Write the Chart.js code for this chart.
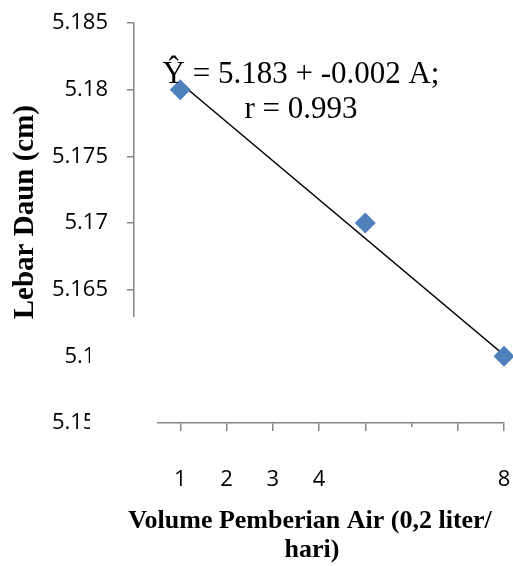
<!DOCTYPE html>
<html>
<head>
<meta charset="utf-8">
<script src="https://cdn.jsdelivr.net/npm/chart.js@4"></script>
<style>
  body { margin: 0; background: #fff; }
  #grafico { display: block; }
</style>
</head>
<body>
<canvas id="grafico" width="513" height="566"></canvas>
<script>
// data
const volume = [1, 5, 8];
const lebarDaun = [5.18, 5.17, 5.16];
const trendX = [1, 8];
const trendY = [5.1805, 5.1601];
const persamaan = ['Ŷ = 5.183 + -0.002 A;', 'r = 0.993'];

const judulY = '   Lebar Daun (cm)';
const judulX = ['Volume Pemberian Air (0,2 liter/', 'hari)'];

const warnaSumbu = '#868686';
const serif = '"Liberation Serif", "Times New Roman", serif';

// the original has parts of the axes covered, kept here as white patches
const tutup = {
    id: 'tutup',
    afterDraw(chart) {
        const c = chart.ctx;
        c.save();
        c.fillStyle = '#fff';
        c.fillRect(90, 317, 67, 128);   // lower y labels + axis stub
        c.fillRect(357, 436, 112, 60);  // x labels 5..7
        c.fillRect(405, 427, 13, 9);    // tick 6
        c.restore();
    }
};

// equation and x-axis title as text
const teks = {
    id: 'teks',
    afterDraw(chart) {
        const c = chart.ctx;
        c.save();
        c.fillStyle = '#000';
        c.textAlign = 'center';
        c.textBaseline = 'alphabetic';
        c.font = '31px ' + serif;
        c.fillText(persamaan[0], 301, 83);
        c.fillText(persamaan[1], 301, 118);
        c.font = 'bold 26px ' + serif;
        c.fillText(judulX[0], 310, 528);
        c.fillText(judulX[1], 312, 557);
        c.restore();
    }
};

const nolPadding = s => {
    s.paddingTop = 0; s.paddingBottom = 0;
    s.paddingLeft = 0; s.paddingRight = 0;
};

const ctx = document.getElementById('grafico').getContext('2d');
const chart = new Chart(ctx, {
    type: 'scatter',
    data: {
        datasets: [{
            label: 'trend',
            type: 'line',
            data: trendX.map((x, i) => ({x: x, y: trendY[i]})),
            borderColor: '#000',
            borderWidth: 1.5,
            pointRadius: 0,
            fill: false,
            order: 2
        }, {
            label: 'Lebar Daun',
            data: volume.map((x, i) => ({x: x, y: lebarDaun[i]})),
            pointStyle: 'rectRot',
            pointRadius: 10.5,
            pointHoverRadius: 10.5,
            backgroundColor: '#4F81BD',
            borderWidth: 0,
            clip: false,
            order: 1
        }]
    },
    options: {
        responsive: false,
        animation: false,
        devicePixelRatio: 1,
        layout: { autoPadding: false, padding: { left: 0, top: 23, right: 9, bottom: 2 } },
        plugins: {
            legend: { display: false },
            tooltip: { enabled: false }
        },
        scales: {
            x: {
                type: 'linear',
                min: 0,
                max: 8,
                afterFit: s => { s.height = 141; nolPadding(s); },
                border: { color: warnaSumbu, width: 1.5 },
                grid: { drawOnChartArea: false, drawTicks: true, tickLength: 8, color: warnaSumbu, lineWidth: 1.5 },
                ticks: {
                    stepSize: 1,
                    padding: 36,
                    color: '#000',
                    font: { family: '"Open Sans", sans-serif', size: 22 },
                    callback: v => v === 0 ? '' : v
                }
            },
            y: {
                min: 5.155,
                max: 5.185,
                afterFit: s => { s.width = 134; nolPadding(s); },
                border: { color: warnaSumbu, width: 1.5 },
                grid: { drawOnChartArea: false, drawTicks: true, tickLength: 7, color: warnaSumbu, lineWidth: 1.5 },
                ticks: {
                    stepSize: 0.005,
                    padding: 19,
                    color: '#000',
                    font: { family: '"Open Sans", sans-serif', size: 22 },
                    callback: v => String(Number(v.toFixed(3)))
                },
                title: {
                    display: true,
                    text: judulY,
                    color: '#000',
                    font: { family: serif, size: 29, weight: 'bold' },
                    padding: { top: 8 }
                }
            }
        }
    },
    plugins: [tutup, teks]
});
</script>
</body>
</html>
